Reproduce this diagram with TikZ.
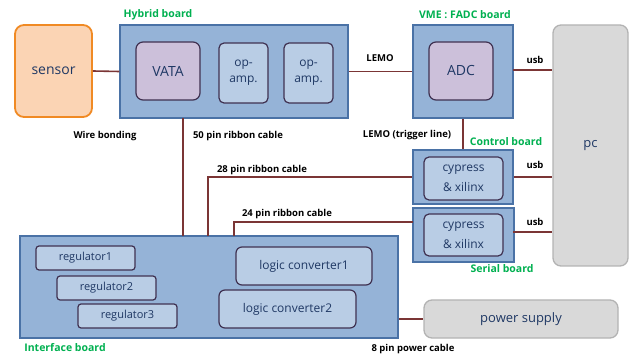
\documentclass[tikz,border=0pt]{standalone}
\usepackage{fontspec}
\setmainfont{Open Sans}
\definecolor{board}{HTML}{95B3D7}
\definecolor{boardline}{HTML}{4A72A6}
\definecolor{chip}{HTML}{CCC0DA}
\definecolor{chipline}{HTML}{3F3151}
\definecolor{lightchip}{HTML}{B9CDE5}
\definecolor{txt}{HTML}{1F3864}
\definecolor{cable}{HTML}{7B3535}
\definecolor{lbl}{HTML}{00B050}
\definecolor{sensfill}{HTML}{FBD4B4}
\definecolor{sensline}{HTML}{F08A24}
\definecolor{grayfill}{HTML}{D9D9D9}
\definecolor{grayline}{HTML}{B3B3B3}
\tikzset{
  boardbox/.style={draw=boardline, fill=board, line width=1.3pt, inner sep=0pt},
  chipbox/.style={draw=chipline, fill=chip, line width=1.2pt, rounded corners=7pt, inner sep=0pt, text=txt, font=\fontsize{14}{16}\selectfont},
  ltbox/.style={draw=chipline, fill=lightchip, line width=1.2pt, rounded corners=5pt, inner sep=0pt, text=txt, font=\fontsize{12}{16}\selectfont, align=center},
  regbox/.style={draw=chipline, fill=lightchip, line width=1.2pt, rounded corners=3pt, inner sep=0pt, text=txt, font=\fontsize{11}{13}\selectfont},
  graybox/.style={draw=grayline, fill=grayfill, line width=1.3pt, rounded corners=8pt, inner sep=0pt, text=txt, font=\fontsize{13}{16}\selectfont},
  wire/.style={draw=cable, line width=1.6pt},
  cablelbl/.style={font=\bfseries\fontsize{9.5}{10}\selectfont, text=black, inner sep=0pt},
  boardlbl/.style={font=\bfseries\fontsize{10.5}{12}\selectfont, text=lbl, inner sep=0pt},
}
\begin{document}
\begin{tikzpicture}[x=1pt,y=-1pt]
\useasboundingbox (0,0) rectangle (637,355);
% boards
\node[draw=sensline, fill=sensfill, line width=1.8pt, rounded corners=9pt, minimum width=77pt, minimum height=92pt, text=txt, font=\fontsize{14}{16}\selectfont] (sensor) at (53.5,71) {sensor};
\node[boardbox, minimum width=228pt, minimum height=93pt] (hybrid) at (234,71.5) {};
\node[chipbox, minimum width=64pt, minimum height=58pt] (vata) at (168,71) {VATA};
\node[ltbox, minimum width=49pt, minimum height=60pt] (opa1) at (243.5,73) {op-\\amp.};
\node[ltbox, minimum width=49pt, minimum height=60pt] (opa2) at (308.5,73) {op-\\amp.};
\node[boardbox, minimum width=100pt, minimum height=93pt] (vme) at (463,71.5) {};
\node[chipbox, minimum width=64pt, minimum height=58pt] (adc) at (461,71) {ADC};
\node[graybox, minimum width=75pt, minimum height=241pt] (pc) at (590.5,145.5) {pc};
\node[boardbox, minimum width=100pt, minimum height=54pt] (control) at (463,177) {};
\node[ltbox, minimum width=79pt, minimum height=43pt, font=\fontsize{12}{20}\selectfont] (cx1) at (463.5,178.5) {cypress\\\& xilinx};
\node[boardbox, minimum width=101pt, minimum height=54pt] (serial) at (463.5,235) {};
\node[ltbox, minimum width=79pt, minimum height=42pt, font=\fontsize{12}{20}\selectfont] (cx2) at (463.5,235) {cypress\\\& xilinx};
\node[boardbox, minimum width=378pt, minimum height=102pt] (iface) at (209,287) {};
\node[regbox, minimum width=99pt, minimum height=24pt] (reg1) at (85.5,258) {regulator1};
\node[regbox, minimum width=99pt, minimum height=24pt] (reg2) at (106.5,288) {regulator2};
\node[regbox, minimum width=99pt, minimum height=24pt] (reg3) at (127.5,316) {regulator3};
\node[regbox, rounded corners=6pt, minimum width=136pt, minimum height=38pt, font=\fontsize{12}{14}\selectfont] (lc1) at (304,266) {logic converter1};
\node[regbox, rounded corners=6pt, minimum width=137pt, minimum height=38pt, font=\fontsize{12}{14}\selectfont] (lc2) at (287.5,309) {logic converter2};
\node[graybox, minimum width=194pt, minimum height=38pt] (power) at (521,319) {power supply};
% cable coordinates
\coordinate (h50) at (183,118);
\coordinate (i50) at (183,236);
\coordinate (i28) at (208,236);
\coordinate (i24) at (234,236);
\coordinate (s24) at (413,222);
\coordinate (uv) at (513,70);
\coordinate (us) at (513,232);
% connectors
\draw[wire] (sensor.east) -- (hybrid.west);
\draw[wire] (hybrid.east) -- (vme.west);
\draw[wire] (uv) -- (uv -| pc.west);
\draw[wire] (h50) -- (i50);
\draw[wire] (vme.south) -- (control.north);
\draw[wire] (control.east) -- (control.east -| pc.west);
\draw[wire] (i28) |- (control.west);
\draw[wire] (i24) |- (s24);
\draw[wire] (us) -- (us -| pc.west);
\draw[wire] (iface.east |- power.west) -- (power.west);
% cable labels
\node[cablelbl] (lwb) at (105,136) {Wire bonding};
\node[cablelbl] (l50) at (238,136) {50 pin ribbon cable};
\node[cablelbl] (llemo) at (380,58) {LEMO};
\node[cablelbl] (ltrig) at (407,135) {LEMO (trigger line)};
\node[cablelbl] (lusb1) at (535,60) {usb};
\node[cablelbl] (lusb2) at (535,165) {usb};
\node[cablelbl] (lusb3) at (535,222) {usb};
\node[cablelbl] (l28) at (262,170) {28 pin ribbon cable};
\node[cablelbl] (l24) at (287,214) {24 pin ribbon cable};
\node[cablelbl] (l8) at (413,349) {8 pin power cable};
% board labels
\node[boardlbl] (bh) at (158,15) {Hybrid board};
\node[boardlbl] (bv) at (465,15) {VME : FADC board};
\node[boardlbl] (bc) at (506,142) {Control board};
\node[boardlbl] (bs) at (502,269) {Serial board};
\node[boardlbl] (bi) at (65,348) {Interface board};
\end{tikzpicture}
\end{document}
